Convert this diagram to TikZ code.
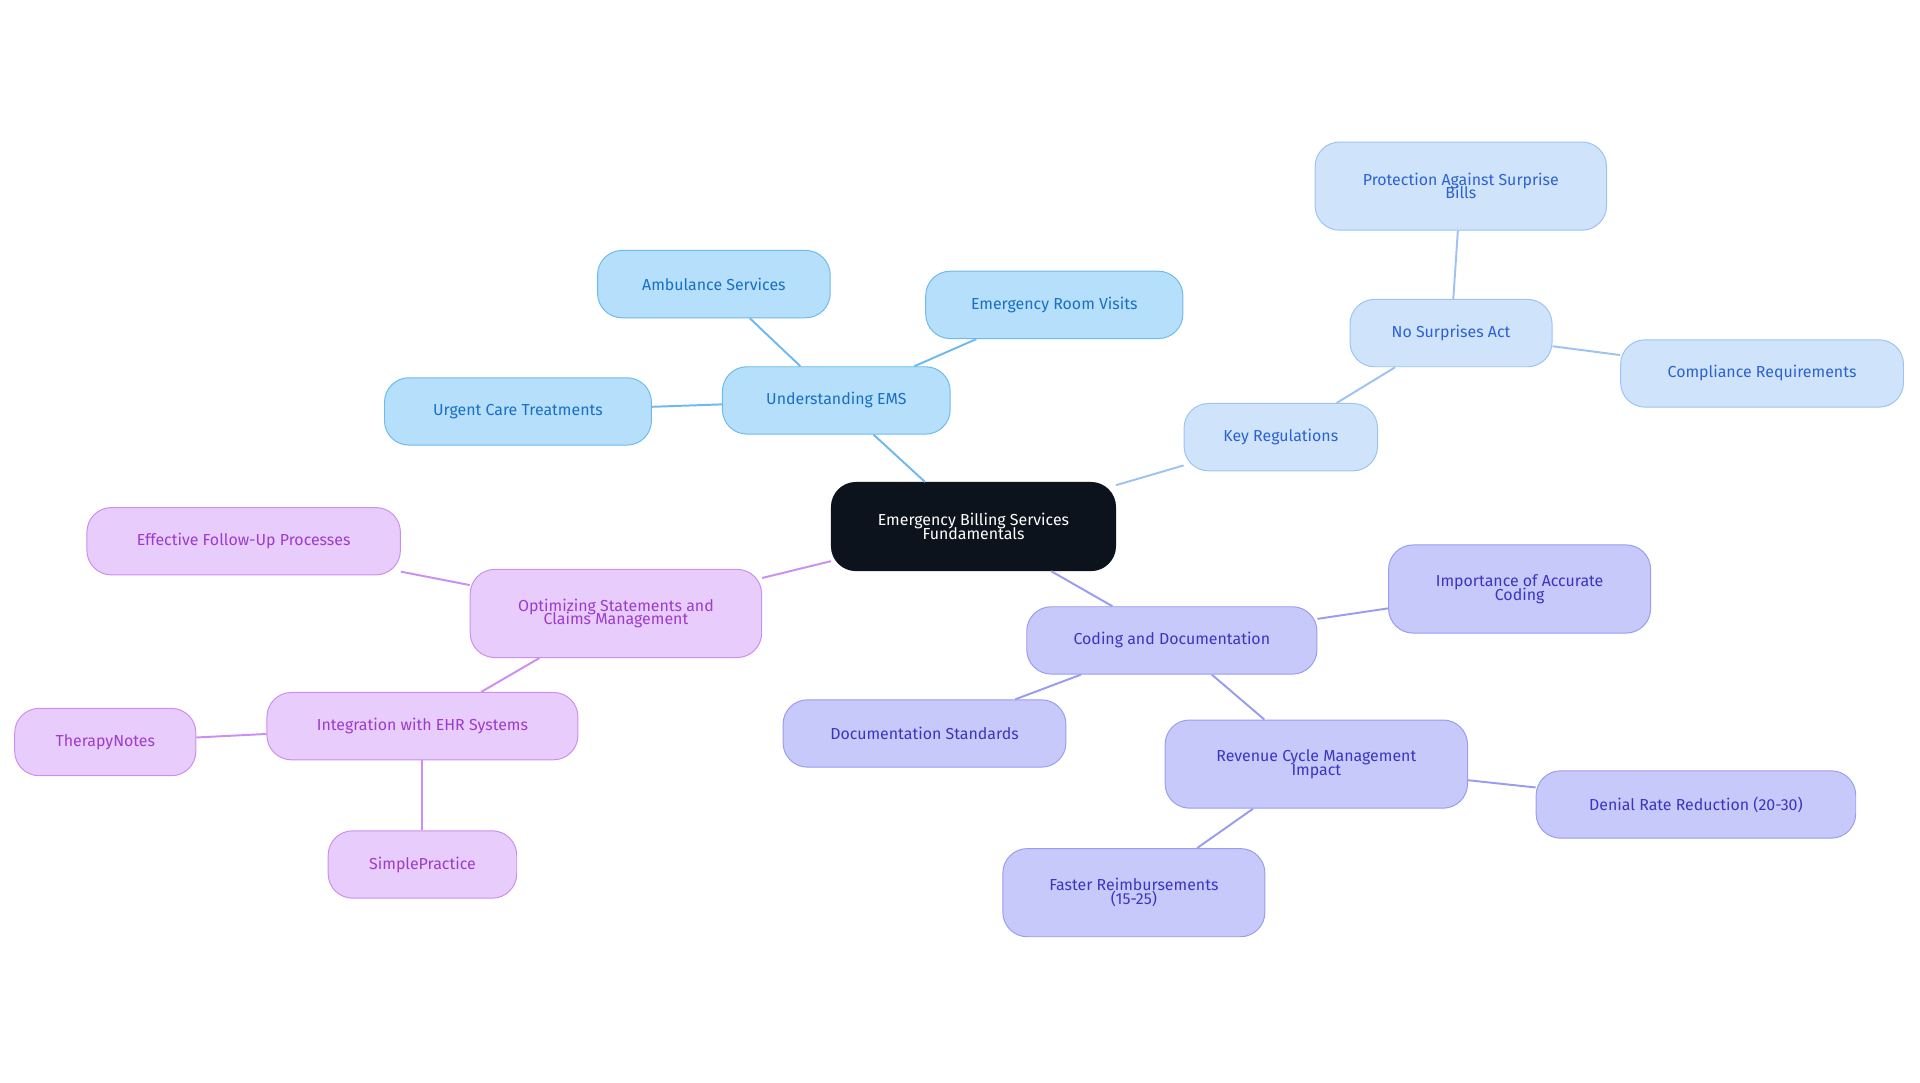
\documentclass[tikz,border=0pt]{standalone}
\usepackage{fontspec}
\setmainfont{Fira Sans}
\definecolor{rootfill}{HTML}{0D131C}
\definecolor{emsfill}{HTML}{B5DFFB}
\definecolor{emsline}{HTML}{6DBBEE}
\definecolor{emstext}{HTML}{1A6FC4}
\definecolor{regfill}{HTML}{CFE3FB}
\definecolor{regline}{HTML}{9CC3F2}
\definecolor{regtext}{HTML}{2C62D0}
\definecolor{codfill}{HTML}{C8C9FB}
\definecolor{codline}{HTML}{9A9CF0}
\definecolor{codtext}{HTML}{3A35C0}
\definecolor{optfill}{HTML}{E8CCFB}
\definecolor{optline}{HTML}{CC8EF0}
\definecolor{opttext}{HTML}{9B3CCC}
\tikzset{
  box/.style={rounded corners=20pt, minimum height=55pt, align=center, font=\fontsize{13}{13}\selectfont, line width=0.8pt},
  ems/.style={box, fill=emsfill, draw=emsline, text=emstext},
  reg/.style={box, fill=regfill, draw=regline, text=regtext},
  cod/.style={box, fill=codfill, draw=codline, text=codtext},
  opt/.style={box, fill=optfill, draw=optline, text=opttext},
}
\begin{document}
\begin{tikzpicture}[x=1pt,y=-1pt]
  \useasboundingbox (0,0) rectangle (1568,884);
  % centre
  \node[box, fill=rootfill, draw=rootfill, text=white, minimum width=232pt, minimum height=72pt] (root) at (795,430) {Emergency Billing Services\\[-2pt]Fundamentals};

  % understanding EMS
  \node[ems, minimum width=186pt] (ems) at (683,327) {Understanding EMS};
  \node[ems, minimum width=190pt] (amb) at (583,232) {Ambulance Services};
  \node[ems, minimum width=210pt] (erv) at (861,249) {Emergency Room Visits};
  \node[ems, minimum width=218pt] (uct) at (423,336) {Urgent Care Treatments};

  % regulations
  \node[reg, minimum width=158pt] (keyreg) at (1046,357) {Key Regulations};
  \node[reg, minimum width=165pt] (nsa) at (1185,272) {No Surprises Act};
  \node[reg, minimum width=238pt, minimum height=72pt] (prot) at (1193,152) {Protection Against Surprise\\[-2pt]Bills};
  \node[reg, minimum width=231pt] (comp) at (1439,305) {Compliance Requirements};

  % coding
  \node[cod, minimum width=237pt] (coding) at (957,523) {Coding and Documentation};
  \node[cod, minimum width=214pt, minimum height=72pt] (accur) at (1241,481) {Importance of Accurate\\[-2pt]Coding};
  \node[cod, minimum width=231pt] (docstd) at (755,599) {Documentation Standards};
  \node[cod, minimum width=247pt, minimum height=72pt] (rcm) at (1075,624) {Revenue Cycle Management\\[-2pt]Impact};
  \node[cod, minimum width=261pt] (denial) at (1385,657) {Denial Rate Reduction (20-30)};
  \node[cod, minimum width=214pt, minimum height=72pt] (faster) at (926,729) {Faster Reimbursements\\[-2pt](15-25)};

  % statements
  \node[opt, minimum width=238pt, minimum height=72pt] (optim) at (503,501) {Optimizing Statements and\\[-2pt]Claims Management};
  \node[opt, minimum width=256pt] (follow) at (199,442) {Effective Follow-Up Processes};
  \node[opt, minimum width=254pt] (ehr) at (345,593) {Integration with EHR Systems};
  \node[opt, minimum width=148pt] (tnotes) at (86,606) {TherapyNotes};
  \node[opt, minimum width=154pt] (simple) at (345,706) {SimplePractice};

  \begin{scope}[on background layer/.style={}, line width=1.6pt]
    \draw[emsline] (root) -- (ems);
    \draw[emsline] (ems) -- (amb);
    \draw[emsline] (ems) -- (erv);
    \draw[emsline] (ems) -- (uct);
    \draw[regline] (root) -- (keyreg);
    \draw[regline] (keyreg) -- (nsa);
    \draw[regline] (nsa) -- (prot);
    \draw[regline] (nsa) -- (comp);
    \draw[codline] (root) -- (coding);
    \draw[codline] (coding) -- (accur);
    \draw[codline] (coding) -- (docstd);
    \draw[codline] (coding) -- (rcm);
    \draw[codline] (rcm) -- (denial);
    \draw[codline] (rcm) -- (faster);
    \draw[optline] (root) -- (optim);
    \draw[optline] (optim) -- (follow);
    \draw[optline] (optim) -- (ehr);
    \draw[optline] (ehr) -- (tnotes);
    \draw[optline] (ehr) -- (simple);
  \end{scope}
\end{tikzpicture}
\end{document}
